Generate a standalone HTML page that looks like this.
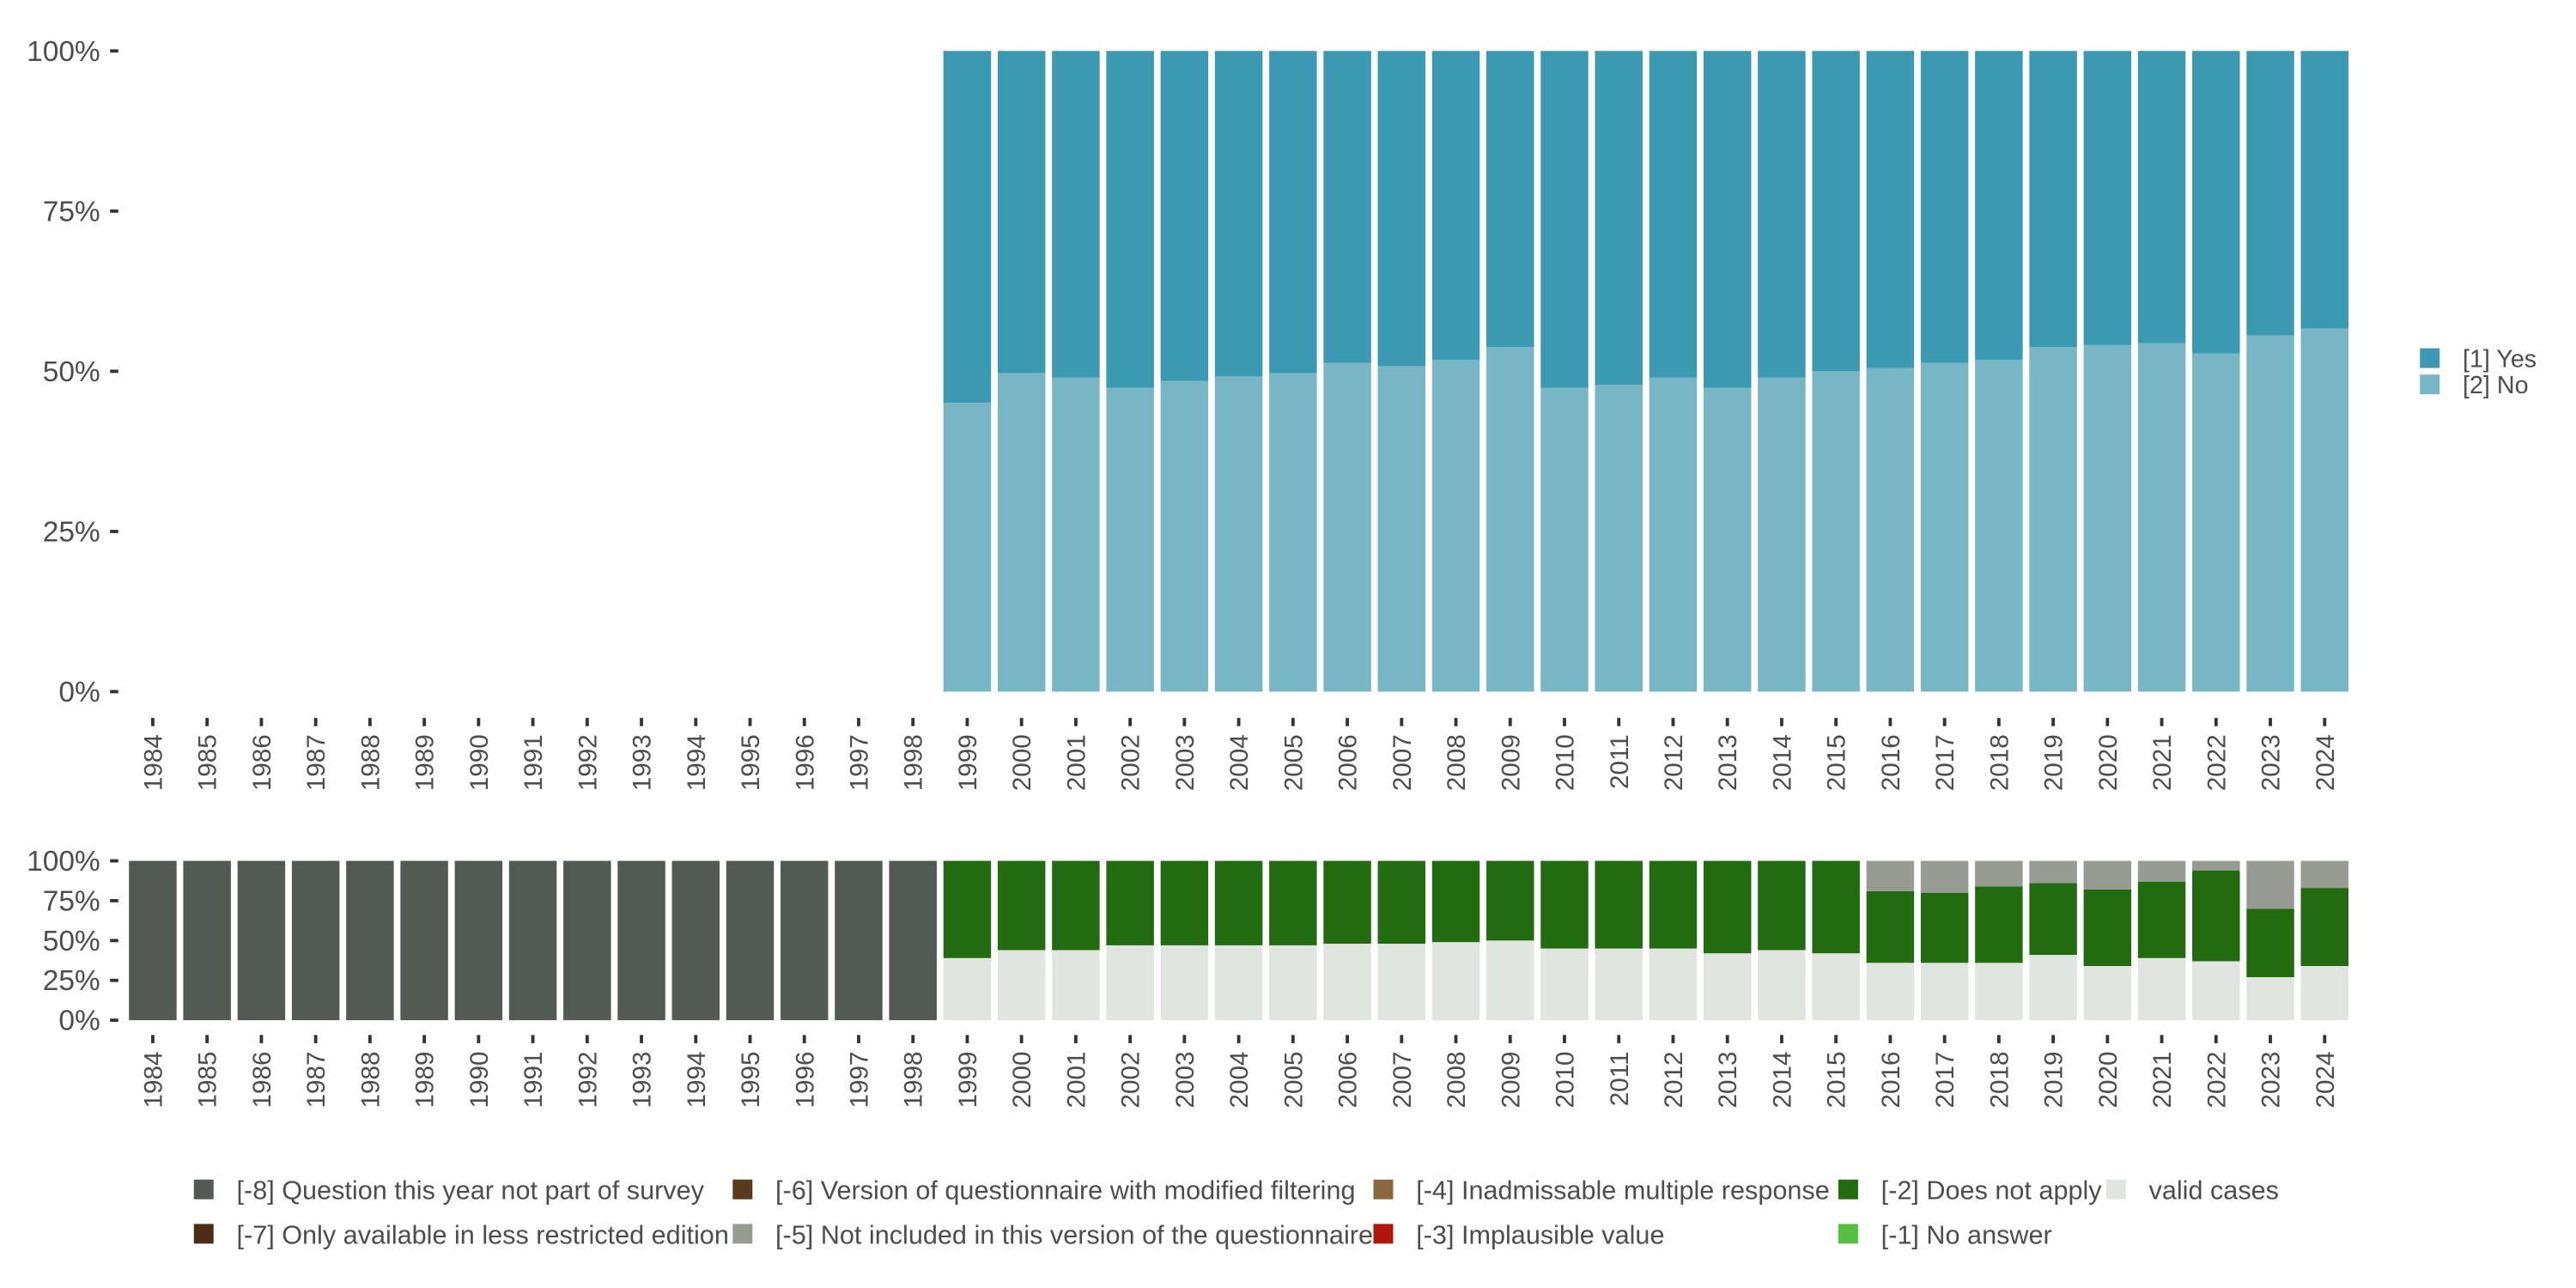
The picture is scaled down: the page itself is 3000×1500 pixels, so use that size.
<!DOCTYPE html>
<html><head><meta charset="utf-8"><style>
html,body{margin:0;padding:0;background:#fff}
svg{display:block}
text{font-family:"Liberation Sans","DejaVu Sans",sans-serif;fill:#4d4d4d}
</style></head><body>
<svg id="chart" width="3000" height="1500" viewBox="0 0 1568 784" preserveAspectRatio="none" xmlns="http://www.w3.org/2000/svg">
<g id="topPanel"></g>
<g id="botPanel"></g>
<g id="legR">
<rect x="1473" y="212" width="12" height="12" fill="#3b99b1"/>
<text x="1499" y="223.5" font-size="15" fill="#1a1a1a">[1] Yes</text>
<rect x="1473" y="228" width="12" height="12" fill="#78b6c5"/>
<text x="1499" y="239.5" font-size="15" fill="#1a1a1a">[2] No</text>
</g>
<g id="legB"></g>
</svg>
<script>
const years = [];
for (let y = 1984; y <= 2024; y++) years.push(y);
const firstSurveyYear = 1999;
// share of "[2] No" among valid answers, 1999-2024
const noShare = [0.451,0.497,0.49,0.474,0.485,0.492,0.497,0.513,0.508,0.518,0.538,0.474,0.479,0.49,0.474,0.49,0.5,0.505,0.513,0.518,0.538,0.541,0.544,0.528,0.556,0.567];
// bottom panel shares, 1999-2024
const validShare = [0.39,0.44,0.44,0.47,0.47,0.47,0.47,0.48,0.48,0.49,0.50,0.45,0.45,0.45,0.42,0.44,0.42,0.36,0.36,0.36,0.41,0.34,0.39,0.37,0.27,0.34];
const dnaShare = [0.61,0.56,0.56,0.53,0.53,0.53,0.53,0.52,0.52,0.51,0.50,0.55,0.55,0.55,0.58,0.56,0.58,0.45,0.44,0.48,0.45,0.48,0.48,0.57,0.43,0.49];
const yTicks = [0,0.25,0.5,0.75,1];
const yTickLabels = ["0%","25%","50%","75%","100%"];

const NS="http://www.w3.org/2000/svg";
function mk(parent,tag,attrs){const e=document.createElementNS(NS,tag);for(const k in attrs)e.setAttribute(k,attrs[k]);parent.appendChild(e);return e;}
const x0=93, step=33.05, bw=29;
const xS = i => x0 + i*step;
const topY = v => 421 - v*390;
const botY = v => 621 - v*97;

function axes(g, yS, tickY, labY, prefix){
  yTicks.forEach((t,i)=>{
    const tk=mk(g,'rect',{x:67,y:yS(t)-1,width:5,height:2,fill:'#333'});
    
    
    const tx=mk(g,'text',{x:61,y:yS(t)+6,'text-anchor':'end','font-size':17.5});
    tx.textContent=yTickLabels[i];
    
    
  });
  years.forEach((yr,i)=>{
    const cx=xS(i);
    const tk=mk(g,'rect',{x:cx-1,y:tickY,width:2,height:5,fill:'#333'});
    
    
    const tx=mk(g,'text',{x:0,y:0,'text-anchor':'end','font-size':15.5,transform:`translate(${cx+5.5},${labY}) rotate(-90)`});
    tx.textContent=yr;
    
    
  });
}
const topPanel=document.getElementById('topPanel');
const botPanel=document.getElementById('botPanel');
axes(topPanel, topY, 437, 447, 'top');
axes(botPanel, botY, 630, 640, 'bottom');

function bar(g,i,v0,v1,yS,fill,name){
  const r=mk(g,'rect',{x:xS(i)-bw/2,y:yS(v1),width:bw,height:Math.max(0,yS(v0)-yS(v1)),fill:fill});
  
  
}
years.forEach((yr,i)=>{
  if(yr<firstSurveyYear){
    bar(botPanel,i,0,1,botY,'#535953','bar-not-in-survey-'+yr);
    return;
  }
  const j=yr-firstSurveyYear;
  const n=noShare[j];
  bar(topPanel,i,0,n,topY,'#78b6c5','bar-no-'+yr);
  bar(topPanel,i,n,1,topY,'#3b99b1','bar-yes-'+yr);
  const v=validShare[j], d=dnaShare[j];
  bar(botPanel,i,0,v,botY,'#e0e5e0','bar-valid-'+yr);
  bar(botPanel,i,v,Math.min(1,v+d),botY,'#226b10','bar-does-not-apply-'+yr);
  if(v+d<0.999) bar(botPanel,i,v+d,1,botY,'#979b94','bar-not-included-'+yr);
});

const legItems=[
 ["[-8] Question this year not part of survey","#535953",118,725],
 ["[-7] Only available in less restricted edition","#4a2d14",118,752],
 ["[-6] Version of questionnaire with modified filtering","#5a3a1a",446,725],
 ["[-5] Not included in this version of the questionnaire","#979b94",446,752],
 ["[-4] Inadmissable multiple response","#8b6840",836,725],
 ["[-3] Implausible value","#b0160c",836,752],
 ["[-2] Does not apply","#226b10",1119,725],
 ["[-1] No answer","#55c040",1119,752],
 ["valid cases","#e0e5e0",1282,725]
];
const legB=document.getElementById('legB');
legItems.forEach((it)=>{
  const x=it[2], y=it[3];
  const r=mk(legB,'rect',{x:x,y:y-7,width:12,height:12,fill:it[1]});
  
  
  const t=mk(legB,'text',{x:x+26,y:y+5,'font-size':16,fill:'#1a1a1a'});
  t.textContent=it[0];
  
  
});
</script>
</body></html>
